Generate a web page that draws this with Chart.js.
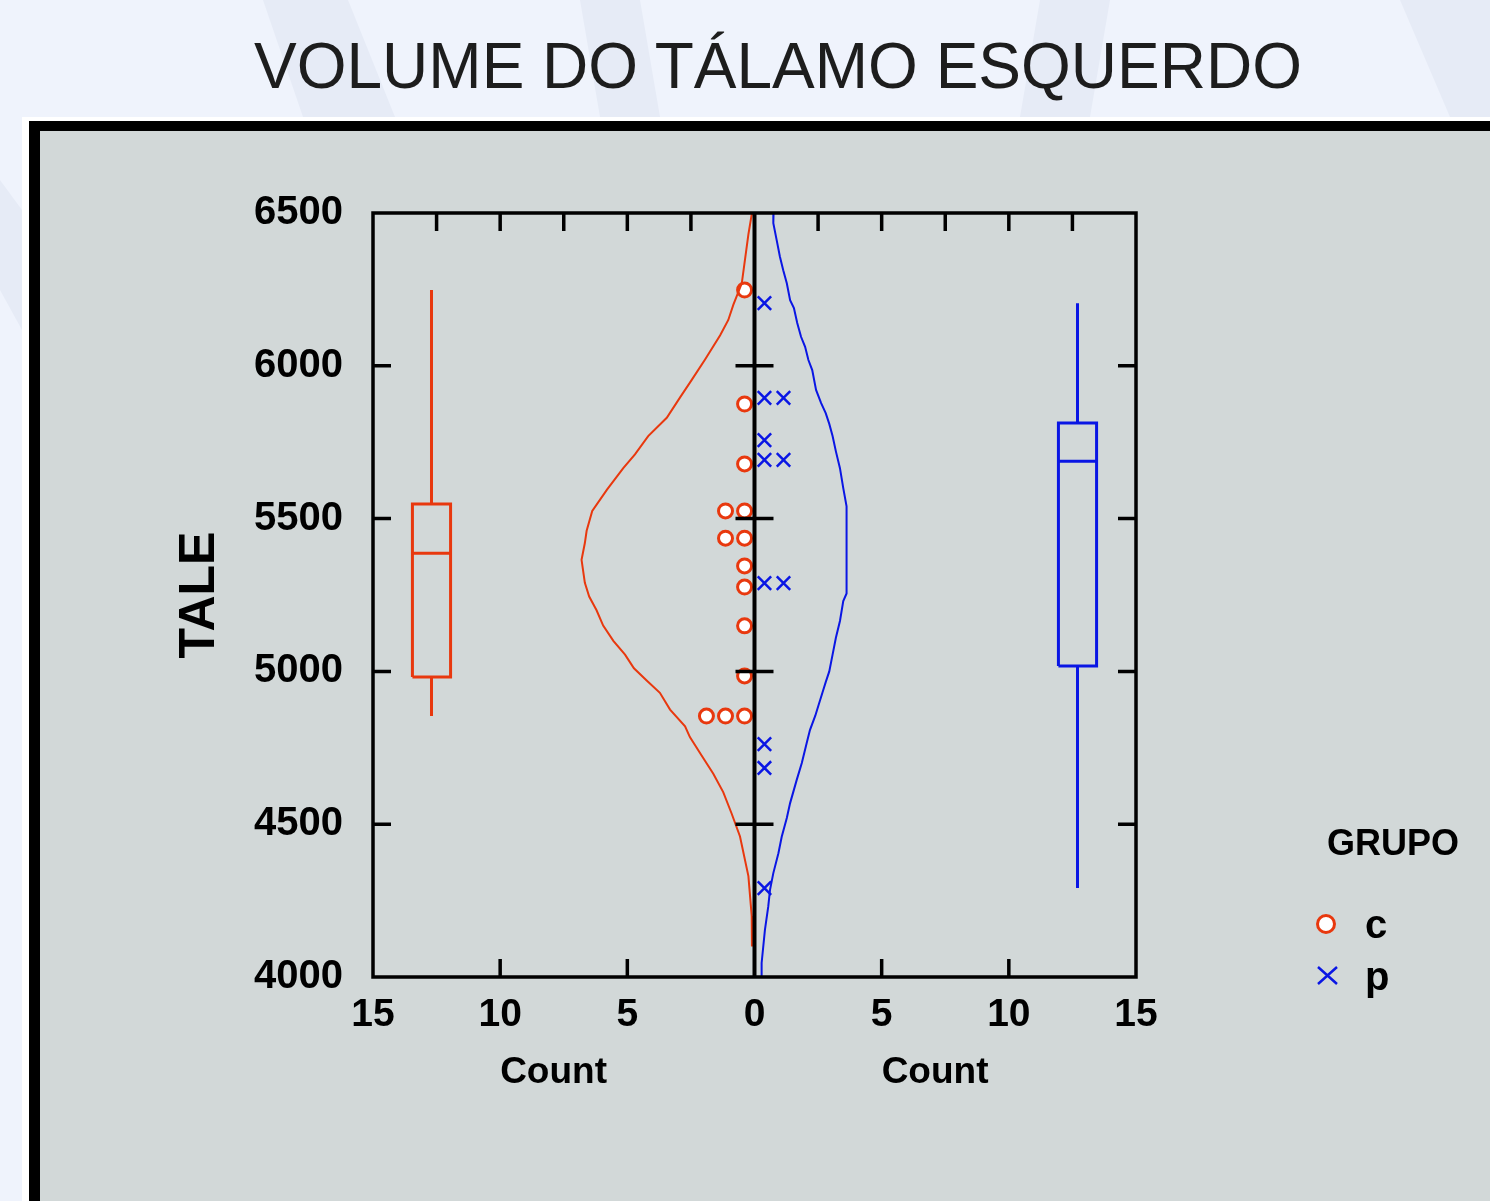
<!DOCTYPE html>
<html>
<head>
<meta charset="utf-8">
<script src="https://cdn.jsdelivr.net/npm/chart.js@4.4.1/dist/chart.umd.min.js"></script>
<style>
  html, body { margin: 0; padding: 0; }
  body { width: 1490px; height: 1201px; overflow: hidden; position: relative;
    background: #eff3fc; font-family: 'Liberation Sans', Arial, sans-serif; }
  .band { position: absolute; left: 0; top: 0; width: 1490px; height: 1201px; background: #e6ebf6; }
  #title { position: absolute; left: 0; top: 34px; width: 1556px; text-align: center;
    font-size: 64px; line-height: 1; color: #1d1d1d; white-space: nowrap; }
  #panel { position: absolute; left: 22px; top: 117px; width: 1500px; height: 1120px; background: #fff; }
  #panel .inner { position: absolute; left: 7px; top: 4px; right: 0; bottom: 0;
    border-left: 11px solid #000; border-top: 10px solid #000; background: #d2d8d8; }
  #chart { position: absolute; left: 0; top: 0; }
</style>
</head>
<body>
<div class="band" style="clip-path: polygon(263px 0, 348px 0, 395px 117px, 303px 117px);"></div>
<div class="band" style="clip-path: polygon(580px 0, 640px 0, 660px 117px, 600px 117px);"></div>
<div class="band" style="clip-path: polygon(1040px 0, 1110px 0, 1090px 117px, 1020px 117px);"></div>
<div class="band" style="clip-path: polygon(1400px 0, 1490px 0, 1490px 117px, 1450px 117px);"></div>
<div class="band" style="clip-path: polygon(0 180px, 22px 210px, 22px 330px, 0 290px);"></div>
<div id="title">VOLUME DO TÁLAMO ESQUERDO</div>
<div id="panel"><div class="inner"></div></div>
<canvas id="chart" width="1490" height="1201"></canvas>
<script>
const groups = ['c', 'p'];
const xTicks = [-15, -10, -5, 0, 5, 10, 15];
const yTicks = [4000, 4500, 5000, 5500, 6000, 6500];

// individual TALE values per group
const cTale = [6248, 5875, 5679, 5525, 5525, 5436, 5436, 5345, 5276, 5149, 4985, 4854, 4854, 4854];
const pTale = [6205, 5895, 5895, 5757, 5692, 5692, 5289, 5289, 4762, 4684, 4291];

// smoothed count curves (c is drawn to the left, p to the right)
const cCurveTale = [6500, 6430, 6350, 6270, 6200, 6150, 6100, 6020, 5950, 5900, 5830, 5770, 5710, 5665, 5595, 5525, 5460, 5420, 5365, 5290, 5245, 5200, 5150, 5100, 5055, 5010, 4970, 4930, 4875, 4820, 4785, 4725, 4665, 4605, 4535, 4460, 4330, 4200, 4100];
const cCurveCount = [0.1, 0.24, 0.37, 0.5, 0.83, 1.03, 1.35, 1.95, 2.5, 2.9, 3.45, 4.18, 4.7, 5.16, 5.8, 6.38, 6.6, 6.67, 6.8, 6.67, 6.5, 6.21, 5.95, 5.55, 5.09, 4.74, 4.24, 3.72, 3.32, 2.73, 2.54, 2.08, 1.62, 1.23, 0.9, 0.57, 0.24, 0.11, 0.1];
const pCurveTale = [6500, 6467, 6412, 6357, 6313, 6270, 6215, 6189, 6140, 6095, 6062, 6019, 5986, 5921, 5878, 5845, 5810, 5770, 5720, 5665, 5600, 5540, 5255, 5230, 5165, 5110, 5055, 5000, 4965, 4930, 4890, 4855, 4808, 4765, 4700, 4645, 4569, 4520, 4459, 4405, 4340, 4285, 4230, 4154, 4046, 4000];
const pCurveCount = [0.75, 0.74, 0.87, 1.0, 1.13, 1.27, 1.40, 1.55, 1.68, 1.83, 1.99, 2.12, 2.27, 2.42, 2.62, 2.80, 2.94, 3.07, 3.20, 3.36, 3.49, 3.62, 3.62, 3.49, 3.36, 3.20, 3.07, 2.94, 2.80, 2.67, 2.52, 2.39, 2.18, 2.05, 1.86, 1.66, 1.40, 1.27, 1.07, 0.94, 0.74, 0.61, 0.54, 0.41, 0.28, 0.28];

// box plots: [low whisker, q1, median, q3, high whisker]
const cBox = [4854, 4982, 5387, 5548, 6248];
const pBox = [4291, 5018, 5688, 5813, 6205];

const RED = '#e8380e';
const BLUE = '#0a16e4';
const boxCenter = 12.7, boxHalf = 0.75;
const dotStart = 0.39, dotStep = 0.75;

function dots(vals, side) {
  const seen = {};
  return vals.map(v => {
    const k = seen[v] || 0;
    seen[v] = k + 1;
    return { x: side * (dotStart + dotStep * k), y: v };
  });
}

function curve(tale, count, side) {
  return tale.map((t, i) => ({ x: side * count[i], y: t }));
}

function box(stats, cx) {
  const [lo, q1, med, q3, hi] = stats;
  const l = cx - boxHalf, r = cx + boxHalf;
  return [
    { x: l, y: q1 }, { x: r, y: q1 }, { x: r, y: q3 }, { x: l, y: q3 }, { x: l, y: q1 },
    { x: cx, y: null },
    { x: l, y: med }, { x: r, y: med },
    { x: cx, y: null },
    { x: cx, y: q3 }, { x: cx, y: hi },
    { x: cx, y: null },
    { x: cx, y: q1 }, { x: cx, y: lo }
  ];
}

const frame = {
  id: 'frame',
  afterDatasetsDraw(chart) {
    const { ctx, chartArea: a, scales: { x, y } } = chart;
    const tl = 18;
    ctx.save();
    ctx.strokeStyle = '#000';
    ctx.lineCap = 'butt';
    ctx.lineWidth = 3.5;
    ctx.strokeRect(a.left, a.top, a.right - a.left, a.bottom - a.top);
    const x0 = x.getPixelForValue(0);
    ctx.lineWidth = 4;
    ctx.beginPath();
    ctx.moveTo(x0, a.top); ctx.lineTo(x0, a.bottom);
    ctx.stroke();
    ctx.lineWidth = 3.5;
    ctx.beginPath();
    yTicks.slice(1, -1).forEach(v => {
      const py = y.getPixelForValue(v);
      ctx.moveTo(a.left, py); ctx.lineTo(a.left + tl, py);
      ctx.moveTo(a.right - tl, py); ctx.lineTo(a.right, py);
      ctx.moveTo(x0 - tl - 1, py); ctx.lineTo(x0 + tl + 1, py);
    });
    for (let v = x.min + 2.5; v < x.max; v += 2.5) {
      if (v === 0) continue;
      const px = x.getPixelForValue(v);
      ctx.moveTo(px, a.top); ctx.lineTo(px, a.top + tl);
    }
    xTicks.slice(1, -1).forEach(v => {
      if (v === 0) return;
      const px = x.getPixelForValue(v);
      ctx.moveTo(px, a.bottom); ctx.lineTo(px, a.bottom - tl);
    });
    ctx.stroke();

    // axis titles under each half
    ctx.fillStyle = '#000';
    ctx.font = 'bold 37px "Liberation Sans", Arial, sans-serif';
    ctx.textAlign = 'center';
    ctx.textBaseline = 'alphabetic';
    ctx.fillText('Count', x.getPixelForValue(-7.9), 1083);
    ctx.fillText('Count', x.getPixelForValue(7.1), 1083);

    // legend
    ctx.textAlign = 'left';
    ctx.font = 'bold 36px "Liberation Sans", Arial, sans-serif';
    ctx.fillText('GRUPO', 1327, 855);
    ctx.font = 'bold 40px "Liberation Sans", Arial, sans-serif';
    ctx.fillText(groups[0], 1365, 938);
    ctx.fillText(groups[1], 1365, 990);
    ctx.lineWidth = 3;
    ctx.strokeStyle = RED;
    ctx.fillStyle = '#fff';
    ctx.beginPath();
    ctx.arc(1326, 924, 8.5, 0, Math.PI * 2);
    ctx.fill(); ctx.stroke();
    ctx.strokeStyle = BLUE;
    ctx.lineWidth = 2.5;
    ctx.beginPath();
    ctx.moveTo(1318, 967); ctx.lineTo(1337, 984);
    ctx.moveTo(1337, 967); ctx.lineTo(1318, 984);
    ctx.stroke();
    ctx.restore();
  }
};

Chart.defaults.font.family = '"Liberation Sans", Arial, sans-serif';
Chart.defaults.color = '#000';

new Chart(document.getElementById('chart'), {
  type: 'scatter',
  data: {
    datasets: [
      { label: 'c curve', data: curve(cCurveTale, cCurveCount, -1), showLine: true,
        borderColor: RED, borderWidth: 2, pointRadius: 0 },
      { label: 'p curve', data: curve(pCurveTale, pCurveCount, 1), showLine: true,
        borderColor: BLUE, borderWidth: 2, pointRadius: 0 },
      { label: 'c box', data: box(cBox, -boxCenter), showLine: true, spanGaps: false,
        borderColor: RED, borderWidth: 3, pointRadius: 0, borderJoinStyle: 'miter' },
      { label: 'p box', data: box(pBox, boxCenter), showLine: true, spanGaps: false,
        borderColor: BLUE, borderWidth: 3, pointRadius: 0, borderJoinStyle: 'miter' },
      { label: groups[0], data: dots(cTale, -1), pointStyle: 'circle', pointRadius: 7,
        borderWidth: 3, borderColor: RED, backgroundColor: '#fff' },
      { label: groups[1], data: dots(pTale, 1), pointStyle: 'crossRot', pointRadius: 9.5,
        borderWidth: 2.5, borderColor: BLUE }
    ]
  },
  options: {
    responsive: false,
    animation: false,
    events: [],
    layout: { padding: { left: 0, top: 213, right: 354, bottom: 0 } },
    plugins: { legend: { display: false }, tooltip: { enabled: false } },
    scales: {
      x: {
        type: 'linear', min: -15, max: 15,
        afterBuildTicks: s => { s.ticks = xTicks.map(v => ({ value: v })); },
        afterFit: s => { s.height = 224; },
        grid: { display: false, drawTicks: false },
        border: { display: false },
        ticks: { padding: 15, font: { size: 39, weight: 'bold' }, color: '#000',
          callback: v => String(Math.abs(v)) }
      },
      y: {
        type: 'linear', min: 4000, max: 6500,
        afterBuildTicks: s => { s.ticks = yTicks.map(v => ({ value: v })); },
        afterFit: s => { s.width = 373; },
        grid: { display: false, drawTicks: false },
        border: { display: false },
        ticks: { padding: 30, font: { size: 40, weight: 'bold' }, color: '#000',
          callback: v => String(v) },
        title: { display: true, text: 'TALE', font: { size: 50, weight: 'bold' },
          color: '#000', padding: { top: 170, bottom: 0 } }
      }
    }
  },
  plugins: [frame]
});
</script>
</body>
</html>
